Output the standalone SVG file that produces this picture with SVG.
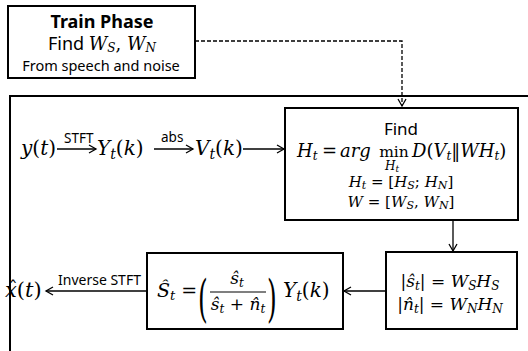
<svg xmlns="http://www.w3.org/2000/svg" width="528" height="351" viewBox="0 0 528 351">
<style>
.box{fill:#fff;stroke:#000;stroke-width:2}
.ln{fill:none;stroke:#000;stroke-width:1.3}
.m{font-family:"DejaVu Serif","Liberation Serif",serif;font-style:italic;fill:#000}
.u{font-style:normal}
.s{font-family:"Noto Sans","DejaVu Sans",sans-serif;fill:#000}
</style>
<defs>
<marker id="ah" markerWidth="10" markerHeight="10" refX="8" refY="5" orient="auto" markerUnits="userSpaceOnUse">
<path d="M1,1 L8,5 L1,9" fill="none" stroke="#000" stroke-width="1.3"/>
</marker>
</defs>
<rect x="10" y="96" width="530" height="270" class="box"/>
<g id="train">
<rect x="8" y="6" width="187" height="72" class="box"/>
<text x="102" y="28" class="s" font-size="18" font-weight="bold" text-anchor="middle">Train Phase</text>
<text x="102" y="50" class="s" font-size="18" text-anchor="middle">Find <tspan class="m" font-size="18">W<tspan font-size="12" dy="2">S</tspan><tspan class="u" dy="-2">, </tspan>W<tspan font-size="12" dy="2">N</tspan></tspan></text>
<text x="101" y="71" class="s" font-size="14.5" text-anchor="middle">From speech and noise</text>
</g>
<g id="row1">
<text x="21" y="155" class="m" font-size="20">y<tspan class="u">(</tspan>t<tspan class="u">)</tspan></text>
<text x="64" y="143" class="s" font-size="13.5">STFT</text>
<text x="97" y="155" class="m" font-size="20">Y<tspan font-size="14" dy="4">t</tspan><tspan class="u" dy="-4">(</tspan>k<tspan class="u">)</tspan></text>
<text x="161" y="142" class="s" font-size="13.5">abs</text>
<text x="195" y="155" class="m" font-size="20">V<tspan font-size="14" dy="4">t</tspan><tspan class="u" dy="-4">(</tspan>k<tspan class="u">)</tspan></text>
</g>
<g id="find">
<rect x="285" y="108" width="233" height="112" class="box"/>
<text x="401" y="135" class="s" font-size="17" text-anchor="middle">Find</text>
<text x="297" y="157" class="m" font-size="18">H<tspan font-size="12" dy="3">t</tspan></text>
<text x="322" y="157" class="m u" font-size="18">=</text>
<text x="340" y="157" class="m" font-size="18">arg</text>
<text x="394" y="157" class="m u" font-size="15.5" text-anchor="middle">min</text>
<text x="392" y="170" class="m" font-size="12" text-anchor="middle">H<tspan font-size="9" dy="2">t</tspan></text>
<text x="412" y="157" class="m" font-size="18">D<tspan class="u">(</tspan>V<tspan font-size="12" dy="3">t</tspan><tspan class="u" dy="-3">‖</tspan>WH<tspan font-size="12" dy="3">t</tspan><tspan class="u" dy="-3">)</tspan></text>
<text x="401" y="187" class="m" font-size="15" text-anchor="middle">H<tspan font-size="11" dy="2">t</tspan><tspan class="u" dy="-2"> = [</tspan>H<tspan font-size="11" dy="2">S</tspan><tspan class="u" dy="-2">; </tspan>H<tspan font-size="11" dy="2">N</tspan><tspan class="u" dy="-2">]</tspan></text>
<text x="401" y="207" class="m" font-size="15" text-anchor="middle">W<tspan class="u"> = [</tspan>W<tspan font-size="11" dy="2">S</tspan><tspan class="u" dy="-2">, </tspan>W<tspan font-size="11" dy="2">N</tspan><tspan class="u" dy="-2">]</tspan></text>
</g>
<g id="mag">
<rect x="386" y="252" width="131" height="77" class="box"/>
<text x="450" y="287" class="m" font-size="17" text-anchor="middle"><tspan class="u">|</tspan>ŝ<tspan font-size="12" dy="3">t</tspan><tspan class="u" dy="-3">| = </tspan>W<tspan font-size="12" dy="3">S</tspan><tspan dy="-3">H</tspan><tspan font-size="12" dy="3">S</tspan></text>
<text x="450" y="310" class="m" font-size="17" text-anchor="middle"><tspan class="u">|</tspan>n̂<tspan font-size="12" dy="3">t</tspan><tspan class="u" dy="-3">| = </tspan>W<tspan font-size="12" dy="3">N</tspan><tspan dy="-3">H</tspan><tspan font-size="12" dy="3">N</tspan></text>
</g>
<g id="mask">
<rect x="147" y="253" width="196" height="76" class="box"/>
<text x="157" y="297" class="m" font-size="19">Ŝ<tspan font-size="13" dy="3">t</tspan><tspan class="u" dy="-3"> =</tspan></text>
<text transform="translate(198,315.5) scale(1,2)" class="m u" font-size="25">(</text>
<text x="237" y="284" class="m" font-size="17" text-anchor="middle">ŝ<tspan font-size="12" dy="3">t</tspan></text>
<line x1="210" y1="292" x2="266" y2="292" stroke="#000" stroke-width="1.2"/>
<text x="238" y="310" class="m" font-size="17" text-anchor="middle">ŝ<tspan font-size="12" dy="3">t</tspan><tspan class="u" dy="-3"> + </tspan>n̂<tspan font-size="12" dy="3">t</tspan></text>
<text transform="translate(267,315.5) scale(1,2)" class="m u" font-size="25">)</text>
<text x="283" y="297" class="m" font-size="20">Y<tspan font-size="14" dy="4">t</tspan><tspan class="u" dy="-4">(</tspan>k<tspan class="u">)</tspan></text>
</g>
<g id="out">
<text x="58" y="285" class="s" font-size="14">Inverse STFT</text>
<text x="5" y="297" class="m" font-size="21">x<tspan class="u">(</tspan>t<tspan class="u">)</tspan></text>
<text x="13" y="295" class="m u" font-size="19" text-anchor="middle">ˆ</text>
</g>
<g id="connectors">
<path d="M195,41 H402 V106" class="ln" stroke-dasharray="4,2" marker-end="url(#ah)"/>
<path d="M57,149 H96" class="ln" marker-end="url(#ah)"/>
<path d="M154,149 H193" class="ln" marker-end="url(#ah)"/>
<path d="M243,149 H284" class="ln" marker-end="url(#ah)"/>
<path d="M453,220 V251" class="ln" marker-end="url(#ah)"/>
<path d="M386,291 H344" class="ln" marker-end="url(#ah)"/>
<path d="M147,291 H46" class="ln" marker-end="url(#ah)"/>
</g>
</svg>
